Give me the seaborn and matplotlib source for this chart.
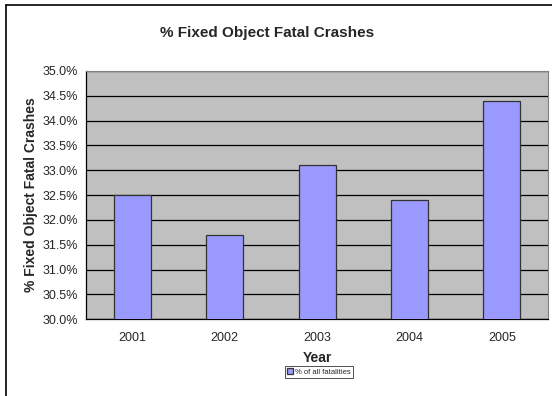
import matplotlib
matplotlib.use("Agg")
import matplotlib.pyplot as plt
import matplotlib.ticker as mticker
from matplotlib.lines import Line2D
import pandas as pd
import seaborn as sns

years = ["2001", "2002", "2003", "2004", "2005"]
pct_fixed_object = [32.5, 31.7, 33.1, 32.4, 34.4]
series_name = "% of all fatalities"

df = pd.DataFrame({"Year": years, "pct": pct_fixed_object})

sns.set_style("white")
plt.rcParams["font.family"] = ["Liberation Sans", "DejaVu Sans"]

fig = plt.figure(figsize=(5.52, 3.96), dpi=100)
ax = fig.add_axes([0.156, 0.194, 0.837, 0.627])
ax.set_facecolor("#C0C0C0")

sns.barplot(data=df, x="Year", y="pct", color="#9999FF", width=0.4,
            edgecolor="#333333", linewidth=0.9, saturation=1,
            label=series_name, ax=ax, zorder=3)

ax.set_ylim(30, 35)
ax.set_xlim(-0.5, len(years) - 0.5)
ax.yaxis.set_major_locator(mticker.MultipleLocator(0.5))
ax.yaxis.set_major_formatter(mticker.FuncFormatter(lambda v, p: f"{v:.1f}%"))
ax.grid(axis="y", color="black", linewidth=0.9, zorder=0)
ax.set_axisbelow(True)

# category boundaries get the tick marks, labels sit at centers
ax.set_xticks([i + 0.5 for i in range(-1, len(years))])
ax.set_xticklabels([])
ax.set_xticks(range(len(years)), minor=True)
ax.set_xticklabels(years, minor=True)
ax.tick_params(axis="x", which="major", direction="out", length=4, width=0.8, color="black")
ax.tick_params(axis="x", which="minor", length=0, pad=9, labelsize=9)
ax.tick_params(axis="y", direction="out", length=4, width=0.8, color="black", labelsize=9, pad=2)

for side in ["top", "right"]:
    ax.spines[side].set_color("#808080")
    ax.spines[side].set_linewidth(0.8)
for side in ["left", "bottom"]:
    ax.spines[side].set_color("black")
    ax.spines[side].set_linewidth(0.9)

ax.set_xlabel("Year", fontsize=10, fontweight="bold", labelpad=5)
ax.set_ylabel("% Fixed Object Fatal Crashes", fontsize=10, fontweight="bold", labelpad=3)
fig.text(0.484, 0.917, "% Fixed Object Fatal Crashes", ha="center", va="center",
         fontsize=11, fontweight="bold")

leg = ax.legend(loc="center", bbox_to_anchor=(0.578, 0.061), bbox_transform=fig.transFigure,
                fontsize=5.5, frameon=True, fancybox=False, handlelength=0.8, handleheight=0.8,
                handletextpad=0.3, borderpad=0.25, borderaxespad=0)
leg.get_frame().set_edgecolor("black")
leg.get_frame().set_linewidth(0.6)

# outer chart border (left and top visible in reference)
fig.add_artist(Line2D([0.011, 0.011], [0, 0.988], color="black", linewidth=1.2,
                      transform=fig.transFigure))
fig.add_artist(Line2D([0.011, 1.0], [0.988, 0.988], color="black", linewidth=1.2,
                      transform=fig.transFigure))

fig.savefig("out.png", dpi=100)
